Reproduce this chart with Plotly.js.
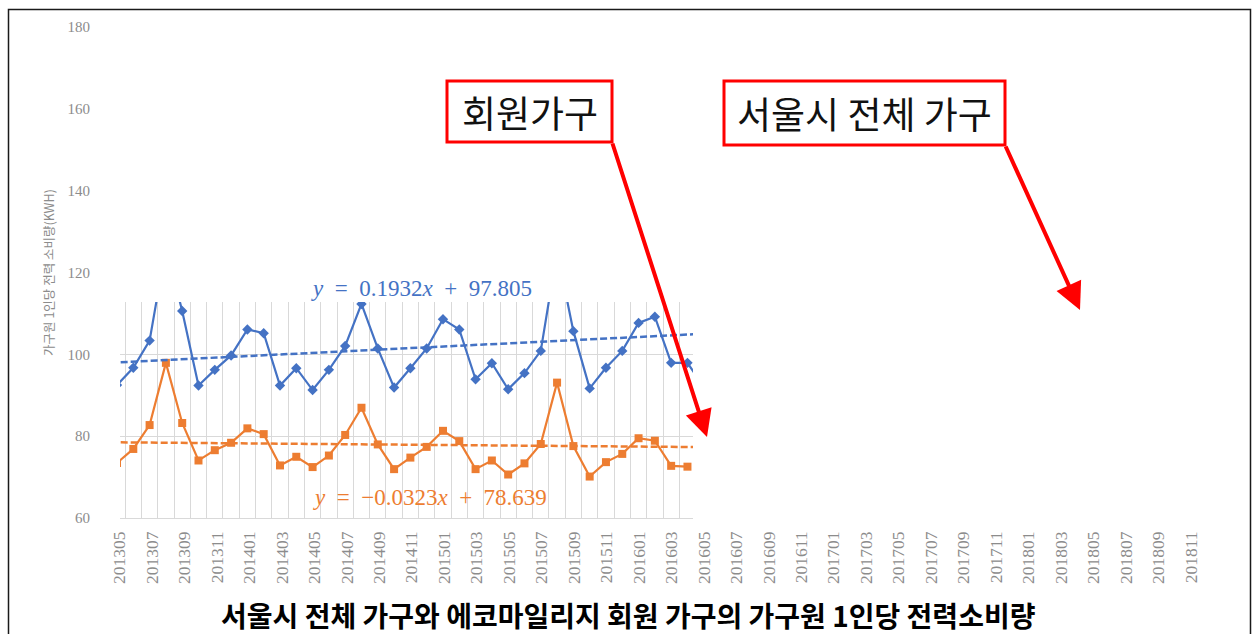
<!DOCTYPE html>
<html>
<head>
<meta charset="utf-8">
<script src="https://cdn.plot.ly/plotly-3.0.1.min.js"></script>
<style>
  html, body { margin: 0; padding: 0; background: #ffffff; }
  #chart { width: 1257px; height: 634px; }
</style>
</head>
<body>
<div id="chart"></div>
<script>
// ---------------- data ----------------
const months = [
  '201305','201306','201307','201308','201309','201310','201311','201312',
  '201401','201402','201403','201404','201405','201406','201407','201408','201409','201410','201411','201412',
  '201501','201502','201503','201504','201505','201506','201507','201508','201509','201510','201511','201512',
  '201601','201602','201603','201604','201605','201606','201607','201608','201609','201610','201611','201612',
  '201701','201702','201703','201704','201705','201706','201707','201708','201709','201710','201711','201712',
  '201801','201802','201803','201804','201805','201806','201807','201808','201809','201810','201811'
];

// 서울시 전체 가구 (blue), 201305 ~ 201605
const seoulAll = [
  92.5, 96.7, 103.3, 126.0, 110.5, 92.4, 96.2, 99.7,
  106.0, 105.1, 92.4, 96.6, 91.3, 96.2, 102.0, 112.2, 101.4, 91.9, 96.6, 101.4,
  108.5, 106.0, 93.9, 97.8, 91.5, 95.4, 100.8, 125.0, 105.6, 91.7, 96.7, 100.8,
  107.6, 109.1, 97.9, 97.9, 92.1
];

// 에코마일리지 회원 가구 (orange), 201305 ~ 201604
const members = [
  73.6, 77.0, 82.8, 97.9, 83.3, 74.2, 76.7, 78.5,
  82.0, 80.6, 73.0, 75.1, 72.6, 75.4, 80.4, 87.0, 78.1, 72.1, 74.9, 77.5,
  81.4, 78.9, 72.1, 74.2, 70.8, 73.5, 78.2, 93.1, 77.7, 70.3, 73.8, 75.8,
  79.6, 79.0, 72.9, 72.7
];

// linear trend lines shown in the chart: y = slope * x + intercept (x = 1, 2, ...)
const trendSlope = [0.1932, -0.0323];
const trendIntercept = [97.805, 78.639];
const trendLabels = ['<i>y</i>  =  0.1932<i>x</i>  +  97.805', '<i>y</i>  =  −0.0323<i>x</i>  +  78.639'];

const yTicks = [60, 80, 100, 120, 140, 160, 180];
const chartTitle = '서울시 전체 가구와 에코마일리지 회원 가구의 가구원 1인당 전력소비량';
const yTitle = '가구원 1인당 전력 소비량(KWH)';
const calloutLabels = ['회원가구', '서울시 전체 가구'];

// ---------------- layout helpers ----------------
const W = 1257, H = 634;
const M = {l: 100, r: 47, t: 27, b: 116};
const PW = W - M.l - M.r, PH = H - M.t - M.b;
const px = p => (p - M.l) / PW;
const py = p => (H - M.b - p) / PH;

const BLUE = '#4472C4', ORANGE = '#ED7D31', GRAY = '#8c8c8c';

const idx = months.map((m, i) => i);
const tickIdx = idx.filter(i => i % 2 === 0);

const xBlue = seoulAll.map((v, i) => i);
const xOrange = members.map((v, i) => i);
const trendX = [-1, 38];
const trendY = k => trendX.map(i => trendSlope[k] * (i + 1) + trendIntercept[k]);

const traces = [
  // empty carrier trace so the main axes (ticks, title) are drawn
  {x: idx, y: idx.map(() => null), xaxis: 'x', yaxis: 'y', type: 'scatter', mode: 'markers',
   marker: {opacity: 0}, hoverinfo: 'skip', showlegend: false},
  {x: xBlue, y: seoulAll, xaxis: 'x2', yaxis: 'y2', type: 'scatter', mode: 'lines+markers',
   name: '서울시 전체 가구', line: {color: BLUE, width: 2.2},
   marker: {symbol: 'diamond', size: 8, color: BLUE}},
  {x: xOrange, y: members, xaxis: 'x2', yaxis: 'y2', type: 'scatter', mode: 'lines+markers',
   name: '회원가구', line: {color: ORANGE, width: 2.2},
   marker: {symbol: 'square', size: 8, color: ORANGE}},
  {x: trendX, y: trendY(0), xaxis: 'x2', yaxis: 'y2', type: 'scatter', mode: 'lines',
   line: {color: BLUE, width: 2.5, dash: '7px,3px'}, hoverinfo: 'skip'},
  {x: trendX, y: trendY(1), xaxis: 'x2', yaxis: 'y2', type: 'scatter', mode: 'lines',
   line: {color: ORANGE, width: 2.5, dash: '7px,3px'}, hoverinfo: 'skip'}
];

const serif = 'Liberation Serif, DejaVu Serif, serif';
const kr = 'Noto Sans CJK KR, sans-serif';

const layout = {
  width: W, height: H,
  margin: M,
  paper_bgcolor: '#ffffff', plot_bgcolor: 'rgba(0,0,0,0)',
  showlegend: false,
  xaxis: {
    range: [-1.208, 67.18], showgrid: false, zeroline: false, showline: false,
    tickmode: 'array', tickvals: tickIdx, ticktext: tickIdx.map(i => months[i]),
    tickangle: -90, ticks: '', ticklabelstandoff: 9,
    tickfont: {family: serif, size: 17.5, color: GRAY}
  },
  yaxis: {
    range: [60, 180], showgrid: false, zeroline: false, showline: false,
    tickmode: 'array', tickvals: yTicks, ticks: '', ticklabelstandoff: 9,
    tickfont: {family: serif, size: 15, color: GRAY},
    title: {text: yTitle, standoff: 10, font: {family: kr, size: 12.5, color: GRAY}}
  },
  xaxis2: {
    domain: [px(120), px(693)], anchor: 'y2', range: [0.184, 35.34],
    showticklabels: false, ticks: '', tick0: 0.5, dtick: 1,
    showgrid: true, gridcolor: '#d9d9d9', gridwidth: 1,
    zeroline: false, showline: true, linecolor: '#d9d9d9', linewidth: 1
  },
  yaxis2: {
    domain: [0, py(302)], anchor: 'x2', range: [60.24, 112.67],
    showticklabels: false, ticks: '', tick0: 60, dtick: 20,
    showgrid: true, gridcolor: '#d9d9d9', gridwidth: 1, zeroline: false, showline: false
  },
  shapes: [
    {type: 'rect', xref: 'paper', yref: 'paper', x0: px(8.5), x1: px(1250.5), y0: py(9.5), y1: py(660),
     line: {color: '#1a1a1a', width: 1.5}, fillcolor: 'rgba(0,0,0,0)', layer: 'below'},
    {type: 'rect', xref: 'paper', yref: 'paper', x0: px(447), x1: px(612), y0: py(81), y1: py(142),
     line: {color: '#ff0000', width: 3}, fillcolor: '#ffffff'},
    {type: 'rect', xref: 'paper', yref: 'paper', x0: px(724), x1: px(1005), y0: py(81), y1: py(145),
     line: {color: '#ff0000', width: 3}, fillcolor: '#ffffff'}
  ],
  annotations: [
    {xref: 'paper', yref: 'paper', x: px(529.5), y: py(111.5), text: calloutLabels[0], showarrow: false,
     font: {family: kr, size: 37, color: '#111111'}, xanchor: 'center', yanchor: 'middle'},
    {xref: 'paper', yref: 'paper', x: px(864.5), y: py(113), text: calloutLabels[1], showarrow: false,
     font: {family: kr, size: 37, color: '#111111'}, xanchor: 'center', yanchor: 'middle'},
    {xref: 'paper', yref: 'paper', x: px(707), y: py(437), ax: 612 - 707, ay: 142 - 437,
     axref: 'pixel', ayref: 'pixel', text: '', showarrow: true, arrowhead: 2, arrowsize: 1.35,
     arrowwidth: 4, arrowcolor: '#ff0000', standoff: 0, startstandoff: 0},
    {xref: 'paper', yref: 'paper', x: px(1080), y: py(310), ax: 1005 - 1080, ay: 145 - 310,
     axref: 'pixel', ayref: 'pixel', text: '', showarrow: true, arrowhead: 2, arrowsize: 1.35,
     arrowwidth: 4, arrowcolor: '#ff0000', standoff: 0, startstandoff: 0},
    {xref: 'paper', yref: 'paper', x: px(421), y: py(288), text: trendLabels[0], showarrow: false,
     font: {family: serif, size: 23, color: BLUE}, xanchor: 'center', yanchor: 'middle'},
    {xref: 'paper', yref: 'paper', x: px(430), y: py(497), text: trendLabels[1], showarrow: false,
     font: {family: serif, size: 23, color: ORANGE}, xanchor: 'center', yanchor: 'middle'},
    {xref: 'paper', yref: 'paper', x: px(628), y: py(615), text: '<b>' + chartTitle + '</b>', showarrow: false,
     font: {family: kr, size: 28, color: '#000000'}, xanchor: 'center', yanchor: 'middle'}
  ]
};

Plotly.newPlot('chart', traces, layout, {staticPlot: true, displayModeBar: false});
</script>
</body>
</html>
